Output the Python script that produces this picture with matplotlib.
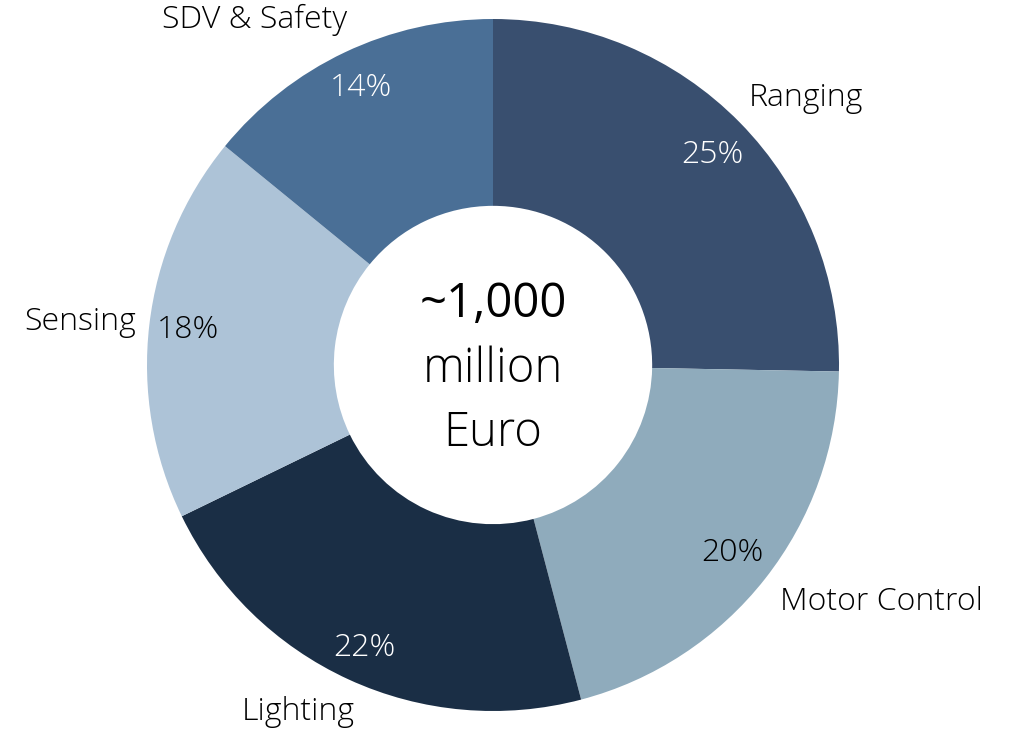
import matplotlib
matplotlib.use('Agg')
import matplotlib.pyplot as plt

# Data
categories = ['Ranging', 'Motor Control', 'Lighting', 'Sensing', 'SDV & Safety']
shares = [25.3, 20.6, 21.9, 18.1, 14.1]
pct_labels = ['25%', '20%', '22%', '18%', '14%']
center_lines = ['~1,000', 'million', 'Euro']

colors = ['#394F6F', '#8FABBC', '#1A2E45', '#ADC3D7', '#4A6F96']
pct_colors = ['white', 'black', 'white', 'black', 'white']

# label placement (in units of outer radius)
name_pos = [(0.905, 0.772), (1.124, -0.685), (-0.564, -1.003), (-1.194, 0.124), (-0.688, 0.997)]
pct_pos = [(0.633, 0.607), (0.691, -0.543), (-0.373, -0.818), (-0.882, 0.101), (-0.382, 0.801)]

plt.rcParams['font.family'] = ['Open Sans', 'DejaVu Sans']

fig = plt.figure(figsize=(10.17, 7.31), dpi=100)
ax = fig.add_axes([0, 0, 1, 1])

ax.pie(shares, colors=colors, startangle=90, counterclock=False,
       radius=1.0, wedgeprops=dict(width=0.54, linewidth=0))

for name, (x, y) in zip(categories, name_pos):
    ax.text(x, y, name, ha='center', va='center', fontsize=23, weight='light', color='black')
for p, (x, y), c in zip(pct_labels, pct_pos, pct_colors):
    ax.text(x, y, p, ha='center', va='center', fontsize=23, weight='light', color=c)

ax.text(0, 0.175, center_lines[0], ha='center', va='center', fontsize=34, color='black')
ax.text(0, -0.015, center_lines[1], ha='center', va='center', fontsize=34, weight='light', color='black')
ax.text(0, -0.2, center_lines[2], ha='center', va='center', fontsize=34, weight='light', color='black')

ax.set_xlim(-493 / 346, (1017 - 493) / 346)
ax.set_ylim(-(731 - 365) / 346, 365 / 346)
ax.set_aspect('equal')
ax.axis('off')

fig.savefig('out.png', dpi=100)
